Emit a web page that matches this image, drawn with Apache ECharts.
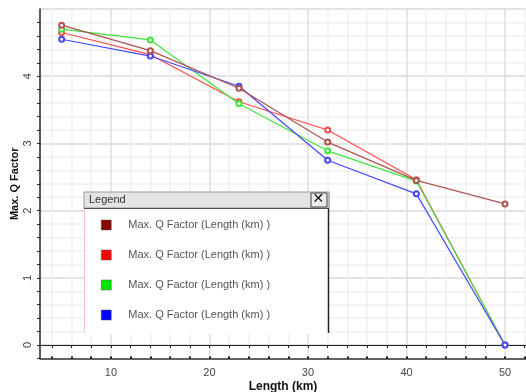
<!DOCTYPE html>
<html>
<head>
<meta charset="utf-8">
<script src="https://cdn.jsdelivr.net/npm/echarts@6/dist/echarts.min.js"></script>
<style>
html, body { margin: 0; padding: 0; background: #fff; }
#chart { width: 526px; height: 392px; }
</style>
</head>
<body>
<div id="chart"></div>
<script>
var lengths = [5, 14, 23, 32, 41, 50]
var qBrown = [4.76, 4.38, 3.82, 3.02, 2.45, 2.10]
var qRed = [4.65, 4.32, 3.62, 3.20, 2.46, 0]
var qGreen = [4.70, 4.54, 3.59, 2.89, 2.44, 0]
var qBlue = [4.55, 4.30, 3.85, 2.75, 2.25, 0]
var seriesLabel = 'Max. Q Factor (Length (km) )'
var xTicks = [4, 6, 8, 10, 12, 14, 16, 18, 20, 22, 24, 26, 28, 30, 32, 34, 36, 38, 40, 42, 44, 46, 48, 50, 52]
var xLabels = [10, 20, 30, 40, 50]

function pairs(ys) {
    return lengths.map(function (x, i) { return [x, ys[i]] })
}

var font = 'Liberation Sans, Arial, sans-serif'
var lineColors = ['#b05252', '#ff4b4b', '#3fe43f', '#4646ff']
var keyColors = ['#8b0000', '#ff0000', '#00e600', '#0000ff']
var allData = [qBrown, qRed, qGreen, qBlue]
var zOrder = [6, 3, 4, 5]

var series = allData.map(function (ys, i) {
    return {
        name: 's' + i,
        type: 'line',
        xAxisIndex: 1,
        data: pairs(ys),
        symbol: 'emptyCircle',
        symbolSize: 5,
        lineStyle: { color: lineColors[i], width: 1.2 },
        itemStyle: { color: lineColors[i], borderWidth: 1.2 },
        z: zOrder[i]
    }
})

var option = {
    backgroundColor: '#fff',
    animation: false,
    grid: { left: 40, right: 0, top: 9, bottom: 33.5, containLabel: false, outerBoundsMode: 'none' },
    xAxis: [{
        type: 'value',
        min: 2.8,
        max: 52.13,
        axisLine: { onZero: true, lineStyle: { color: '#222', width: 1 } },
        axisTick: { show: true, customValues: xTicks, length: 3, inside: false, lineStyle: { color: '#222' } },
        axisLabel: { show: false },
        splitLine: { show: false }
    }, {
        type: 'value',
        position: 'bottom',
        min: 2.8,
        max: 52.13,
        name: 'Length (km)',
        nameLocation: 'middle',
        nameGap: 22,
        nameMoveOverlap: false,
        nameTextStyle: { fontFamily: font, fontWeight: 'bold', fontSize: 12, color: '#111' },
        axisLine: { onZero: false, lineStyle: { color: '#333', width: 1.5 } },
        axisTick: { show: true, customValues: xTicks, length: 2, inside: true, lineStyle: { color: '#111', width: 2 } },
        axisLabel: { customValues: xLabels, fontFamily: font, fontSize: 11, color: '#444', margin: 9 },
        splitLine: {
            show: true,
            lineStyle: { color: ['#f1f1f1', '#f1f1f1', '#f1f1f1', '#dedede', '#f1f1f1'], width: 1.5 }
        }
    }],
    yAxis: {
        type: 'value',
        min: -0.2,
        max: 5,
        interval: 0.2,
        name: 'Max. Q Factor',
        nameLocation: 'middle',
        nameGap: 20,
        nameMoveOverlap: false,
        nameTextStyle: { fontFamily: font, fontWeight: 'bold', fontSize: 11, color: '#111' },
        axisLine: { show: true, lineStyle: { color: '#222', width: 1.5 } },
        axisTick: { show: true, length: 3, lineStyle: { color: '#222' } },
        axisLabel: {
            rotate: 90,
            margin: 7,
            showMaxLabel: false,
            fontFamily: font,
            fontSize: 11,
            color: '#444',
            formatter: function (v) {
                return Math.abs(v - Math.round(v)) < 1e-6 && v < 4.9 ? String(Math.round(v)) : ''
            }
        },
        splitLine: {
            show: true,
            lineStyle: { color: ['#f1f1f1', '#dadada', '#f1f1f1', '#f1f1f1', '#f1f1f1'], width: 1.5 }
        }
    },
    legend: {
        orient: 'vertical',
        left: 96,
        top: 214,
        itemWidth: 10,
        itemHeight: 10,
        itemGap: 18,
        icon: 'rect',
        data: series.map(function (s, i) {
            return { name: s.name, itemStyle: { color: keyColors[i], borderColor: '#555', borderWidth: 0.5 } }
        }),
        formatter: function () { return seriesLabel },
        textStyle: { fontFamily: font, fontSize: 11, color: '#555', padding: [0, 0, 0, 12], lineHeight: 12 },
        z: 20
    },
    graphic: [
        { type: 'rect', z: 10, shape: { x: 84, y: 192, width: 245, height: 142 }, style: { fill: '#fff', stroke: null } },
        { type: 'line', z: 11, shape: { x1: 84.5, y1: 208, x2: 84.5, y2: 333 }, style: { stroke: '#f4c6c6', lineWidth: 1 } },
        { type: 'line', z: 11, shape: { x1: 328.5, y1: 192, x2: 328.5, y2: 333 }, style: { stroke: '#222', lineWidth: 1.5 } },
        { type: 'rect', z: 11, shape: { x: 84, y: 192, width: 245, height: 16 }, style: { fill: '#e4e4e4', stroke: '#9a9a9a', lineWidth: 1 } },
        { type: 'line', z: 12, shape: { x1: 84, y1: 208.5, x2: 329, y2: 208.5 }, style: { stroke: '#555', lineWidth: 1.2 } },
        { type: 'text', z: 12, left: 89, top: 194, style: { text: 'Legend', font: '11px ' + font, fill: '#333' } },
        { type: 'rect', z: 12, shape: { x: 311, y: 193, width: 16, height: 14 }, style: { fill: '#ebebeb', stroke: '#444', lineWidth: 1 } },
        { type: 'text', z: 13, left: 312.5, top: 192, style: { text: '\u2715', font: 'bold 14px DejaVu Sans', fill: '#111' } }
    ],
    series: series
}

var chart = echarts.init(document.getElementById('chart'))
chart.setOption(option)
</script>
</body>
</html>
